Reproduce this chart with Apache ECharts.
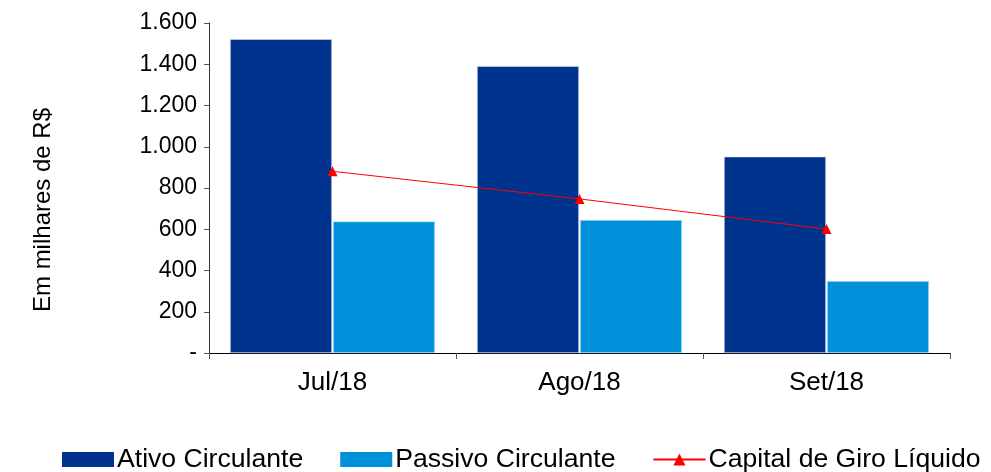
<!DOCTYPE html>
<html>
<head>
<meta charset="utf-8">
<script src="https://cdn.jsdelivr.net/npm/echarts@6/dist/echarts.min.js"></script>
<style>
  html, body { margin: 0; padding: 0; background: #fff; }
  #chart { width: 991px; height: 472px; }
</style>
</head>
<body>
<div id="chart"></div>
<script>
var months = ['Jul/18', 'Ago/18', 'Set/18'];
var ativo = [1522, 1391, 952];
var passivo = [638, 645, 349];
var capitalGiro = [881, 747, 601];

var chart = echarts.init(document.getElementById('chart'), null, { renderer: 'canvas' });

function fmt(v) {
  if (v === 0) return '-';
  return String(v).replace(/\B(?=(\d{3})+(?!\d))/g, '.');
}

var font = 'Liberation Sans, Arial, sans-serif';

var option = {
  backgroundColor: '#fff',
  animation: false,
  grid: { left: 209, right: 41, top: 23, bottom: 119 },
  legend: {
    left: 57,
    top: 441,
    itemGap: 37,
    itemWidth: 52,
    itemHeight: 15,
    textStyle: { fontFamily: font, fontSize: 26.6, color: '#000', padding: [0, 0, 0, -2] },
    data: [
      { name: 'Ativo Circulante', icon: 'rect', itemStyle: { borderWidth: 0 } },
      { name: 'Passivo Circulante', icon: 'rect', itemStyle: { borderWidth: 0 } },
      { name: 'Capital de Giro Líquido' }
    ]
  },
  xAxis: {
    type: 'category',
    data: months,
    axisLine: { lineStyle: { color: '#000', width: 1 } },
    axisTick: { show: true, length: 6, lineStyle: { color: '#555' } },
    axisLabel: { fontFamily: font, fontSize: 26, color: '#000', margin: 17 }
  },
  yAxis: {
    type: 'value',
    min: 0,
    max: 1600,
    interval: 200,
    name: 'Em milhares de R$',
    nameLocation: 'middle',
    nameGap: 154,
    nameTextStyle: { fontFamily: font, fontSize: 24, color: '#000', padding: [0, 44, 0, 0] },
    axisLine: { show: true, lineStyle: { color: '#333', width: 1 } },
    axisTick: { show: true, length: 5, lineStyle: { color: '#555' } },
    splitLine: { show: false },
    axisLabel: { fontFamily: font, fontSize: 23, color: '#000', margin: 12, formatter: fmt }
  },
  series: [
    {
      name: 'Ativo Circulante',
      type: 'bar',
      data: ativo,
      barWidth: 102,
      barGap: '1%',
      itemStyle: { color: '#00338D', borderColor: '#dfe6f2', borderWidth: 0.6 }
    },
    {
      name: 'Passivo Circulante',
      type: 'bar',
      data: passivo,
      barWidth: 102,
      itemStyle: { color: '#0091DA', borderColor: '#d6ecf8', borderWidth: 0.6 }
    },
    {
      name: 'Capital de Giro Líquido',
      type: 'line',
      data: capitalGiro,
      symbol: 'triangle',
      symbolSize: 10,
      lineStyle: { color: '#FF0000', width: 1 },
      itemStyle: { color: '#FF0000' },
      z: 5
    }
  ]
};

chart.setOption(option);
</script>
</body>
</html>
